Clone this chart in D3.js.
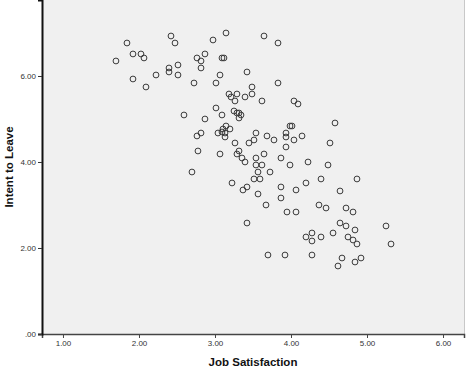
<!DOCTYPE html>
<html>
<head>
<meta charset="utf-8">
<script src="https://cdn.jsdelivr.net/npm/d3@7"></script>
<style>
  html, body { margin: 0; padding: 0; background: #ffffff; }
  svg { display: block; }
</style>
</head>
<body>
<svg id="chart" width="468" height="367"></svg>
<script>
// ---- Data ----
const jobSatisfaction = [
  1.842, 1.921, 2.026, 2.066, 1.697, 2.224, 1.921, 2.092, 2.421, 2.474,
  2.974, 3.145, 3.645, 3.829, 2.868, 2.763, 2.816, 3.092, 3.118, 2.513,
  2.395, 2.395, 2.513, 2.816, 3.421, 3.066, 2.724, 3.013, 3.829, 3.487,
  3.184, 3.289, 3.487, 3.211, 3.395, 3.263, 3.618, 4.039, 4.092, 3.013,
  2.592, 2.868, 3.092, 3.250, 3.289, 3.316, 3.342, 3.316, 3.987, 4.013,
  3.145, 3.105, 3.092, 3.132, 3.197, 3.039, 3.132, 2.816, 2.763, 3.539,
  3.684, 3.513, 3.447, 3.263, 3.776, 3.934, 3.934, 4.145, 4.039, 3.934,
  4.513, 4.579, 2.776, 3.066, 3.316, 3.289, 3.355, 3.395, 3.539, 3.645,
  3.868, 3.987, 4.224, 3.539, 3.618, 4.487, 2.697, 3.566, 3.724, 3.224,
  3.513, 3.592, 3.421, 3.368, 4.197, 3.868, 4.066, 3.566, 3.868, 3.671,
  3.947, 4.066, 3.421, 4.197, 4.395, 4.868, 4.645, 4.368, 4.461, 4.724,
  4.816, 4.645, 4.724, 4.842, 5.250, 4.276, 4.276, 4.395, 4.553, 4.750,
  4.816, 4.868, 5.316, 4.276, 4.671, 4.618, 4.842, 4.921, 3.697, 3.921
];
const intentToLeave = [
  6.767, 6.512, 6.512, 6.419, 6.349, 6.023, 5.930, 5.744, 6.930, 6.767,
  6.837, 7.000, 6.930, 6.767, 6.512, 6.419, 6.349, 6.419, 6.419, 6.256,
  6.186, 6.093, 6.023, 6.186, 6.093, 6.023, 5.837, 5.837, 5.837, 5.744,
  5.581, 5.581, 5.581, 5.512, 5.512, 5.419, 5.419, 5.419, 5.349, 5.256,
  5.093, 5.000, 5.093, 5.186, 5.140, 5.140, 5.093, 5.023, 4.837, 4.837,
  4.837, 4.767, 4.698, 4.674, 4.767, 4.674, 4.581, 4.674, 4.605, 4.674,
  4.605, 4.512, 4.442, 4.442, 4.512, 4.674, 4.581, 4.605, 4.512, 4.349,
  4.442, 4.907, 4.256, 4.186, 4.256, 4.186, 4.093, 4.000, 4.093, 4.186,
  4.093, 3.930, 4.000, 3.930, 3.930, 3.930, 3.767, 3.767, 3.767, 3.512,
  3.605, 3.605, 3.419, 3.349, 3.512, 3.419, 3.349, 3.256, 3.163, 3.000,
  2.837, 2.837, 2.581, 2.256, 3.605, 3.605, 3.326, 3.000, 2.930, 2.930,
  2.837, 2.581, 2.512, 2.419, 2.512, 2.349, 2.163, 2.256, 2.349, 2.256,
  2.186, 2.093, 2.093, 1.837, 1.767, 1.581, 1.674, 1.767, 1.837, 1.837
];
const xTicks = [1, 2, 3, 4, 5, 6];
const yTicks = [0, 2, 4, 6];
const xTitle = "Job Satisfaction";
const yTitle = "Intent to Leave";

// ---- Layout ----
const svg = d3.select("#chart");
const mLeft = 42, mRight = 464, mTop = 0, mBottom = 334;

const x = d3.scaleLinear().domain([0.724, 6.276]).range([mLeft, mRight]);
const y = d3.scaleLinear().domain([0, 7.767]).range([mBottom, mTop]);

// plot background
svg.append("rect")
  .attr("x", mLeft).attr("y", mTop)
  .attr("width", mRight - mLeft).attr("height", mBottom - mTop)
  .attr("fill", "#f0f0f0");

// right border
svg.append("line")
  .attr("x1", mRight + 0.5).attr("x2", mRight + 0.5)
  .attr("y1", mTop).attr("y2", mBottom)
  .attr("stroke", "#c8c8c8").attr("stroke-width", 1);

const fmtY = v => v === 0 ? ".00" : d3.format(".2f")(v);

// x axis
const xAxis = svg.append("g")
  .attr("transform", `translate(0,${mBottom})`)
  .call(d3.axisBottom(x).tickValues(xTicks).tickFormat(d3.format(".2f")).tickSize(4).tickPadding(2));
xAxis.select(".domain").attr("stroke", "#444").attr("stroke-width", 1.5);
xAxis.selectAll(".tick line").attr("stroke", "#444");
xAxis.selectAll("text")
  .attr("font-family", "Liberation Sans, Arial, sans-serif")
  .attr("font-size", "8px").attr("fill", "#333");

// y axis
const yAxis = svg.append("g")
  .attr("transform", `translate(${mLeft},0)`)
  .call(d3.axisLeft(y).tickValues(yTicks).tickFormat(fmtY).tickSize(4).tickPadding(2));
yAxis.select(".domain").attr("stroke", "#111").attr("stroke-width", 2);
yAxis.selectAll(".tick line").attr("stroke", "#333");
yAxis.selectAll("text")
  .attr("font-family", "Liberation Sans, Arial, sans-serif")
  .attr("font-size", "8px").attr("fill", "#333");

// points
svg.append("g")
  .selectAll("circle")
  .data(jobSatisfaction.map((v, i) => [v, intentToLeave[i]]))
  .join("circle")
  .attr("cx", d => x(d[0]))
  .attr("cy", d => y(d[1]))
  .attr("r", 2.9)
  .attr("fill", "none")
  .attr("stroke", "#3a3a3a")
  .attr("stroke-width", 1);

// axis titles
svg.append("text")
  .attr("x", (mLeft + mRight) / 2).attr("y", 366)
  .attr("text-anchor", "middle")
  .attr("font-family", "Liberation Sans, Arial, sans-serif")
  .attr("font-weight", "bold").attr("font-size", "11.5px").attr("fill", "#111")
  .text(xTitle);

svg.append("text")
  .attr("transform", `translate(12.5,${(mTop + mBottom) / 2}) rotate(-90)`)
  .attr("text-anchor", "middle")
  .attr("font-family", "Liberation Sans, Arial, sans-serif")
  .attr("font-weight", "bold").attr("font-size", "11.5px").attr("fill", "#111")
  .text(yTitle);
</script>
</body>
</html>
